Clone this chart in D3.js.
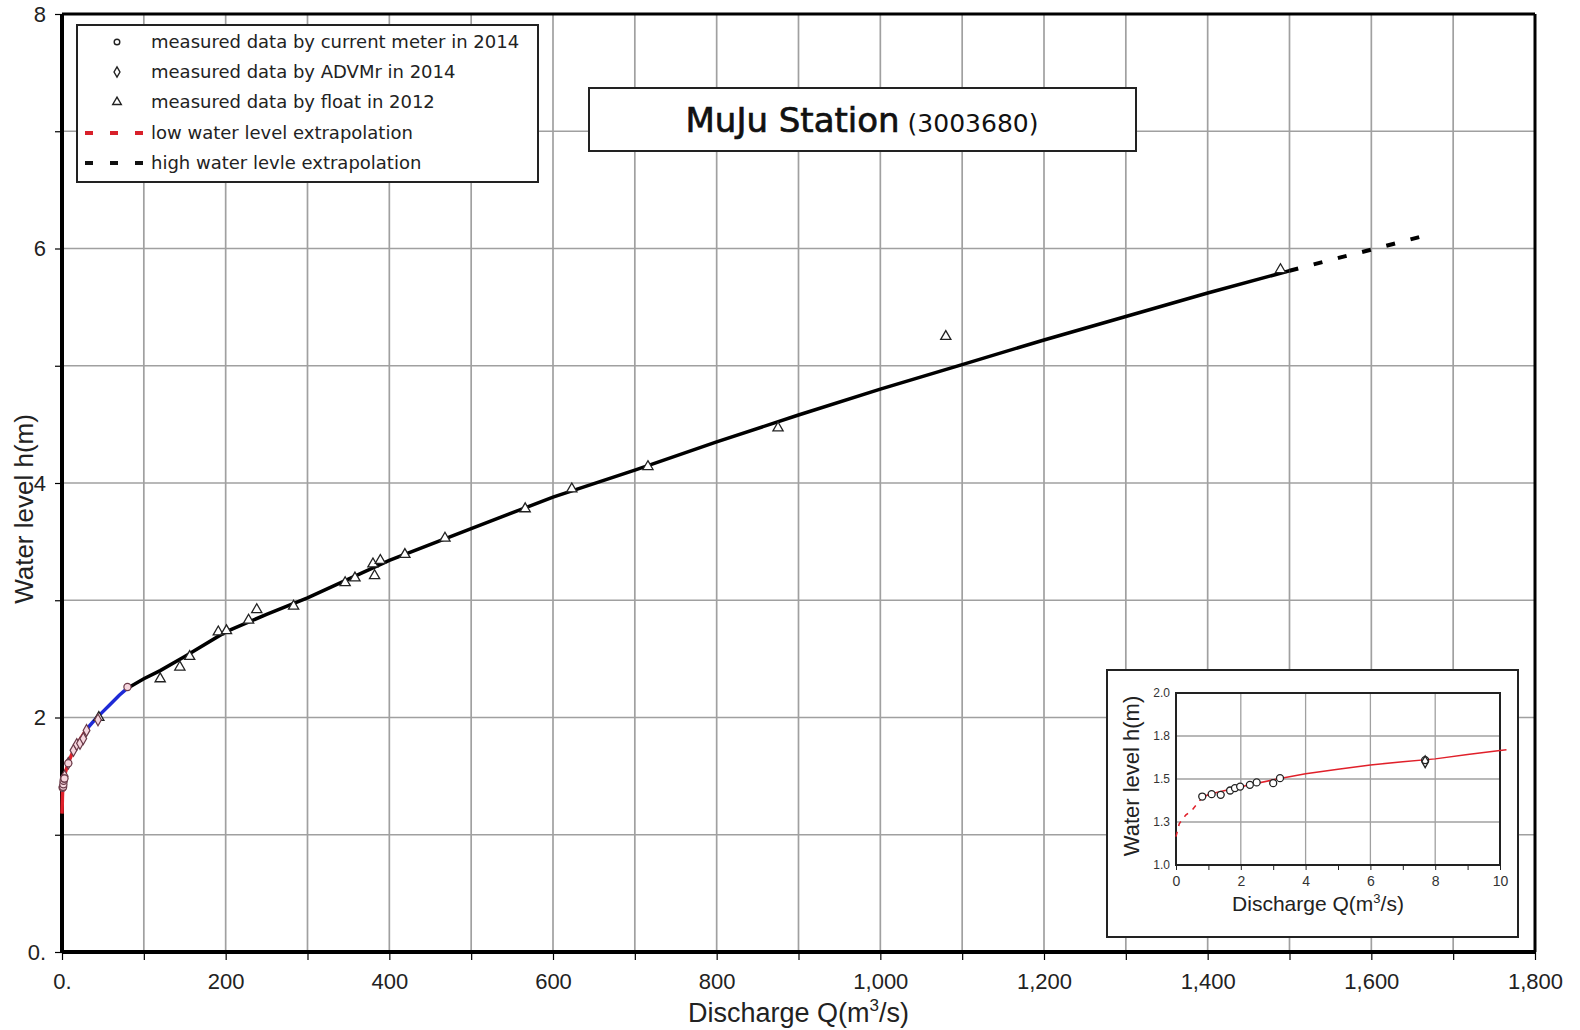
<!DOCTYPE html>
<html>
<head>
<meta charset="utf-8">
<script src="https://cdn.jsdelivr.net/npm/d3@7"></script>
<style>
  html, body { margin: 0; padding: 0; background: #fff; }
  svg { display: block; }
</style>
</head>
<body>
<svg id="chart" width="1580" height="1030"></svg>
<script>
// ---------------- DATA ----------------
const xTickValues = [0, 200, 400, 600, 800, 1000, 1200, 1400, 1600, 1800];
const xTickLabels = ["0.", "200", "400", "600", "800", "1,000", "1,200", "1,400", "1,600", "1,800"];
const yTickValues = [0, 2, 4, 6, 8];
const yTickLabels = ["0.", "2", "4", "6", "8"];

// low water level extrapolation (red)
const lowQ = [0, 0.5, 1, 2, 4, 8, 14, 20, 30];
const lowH = [1.18, 1.32, 1.42, 1.46, 1.53, 1.62, 1.72, 1.79, 1.90];
// transition segment (blue)
const midQ = [30, 40, 50, 60, 70, 80];
const midH = [1.90, 1.98, 2.05, 2.12, 2.19, 2.25];
// rating curve (black, solid)
const rateQ = [80, 100, 120, 150, 200, 250, 300, 350, 400, 500, 600, 700, 800, 900, 1000, 1100, 1200, 1300, 1400, 1500];
const rateH = [2.25, 2.33, 2.40, 2.52, 2.73, 2.88, 3.02, 3.18, 3.34, 3.61, 3.88, 4.11, 4.35, 4.58, 4.80, 5.01, 5.22, 5.42, 5.62, 5.81];
// high water level extrapolation (black dashed)
const highQ = [1500, 1560, 1600, 1660];
const highH = [5.81, 5.92, 5.99, 6.10];

// measured data by current meter in 2014
const meterQ = [0.8, 1.1, 1.4, 1.7, 2.0, 2.5, 3.0, 7.7, 80];
const meterH = [1.40, 1.41, 1.41, 1.43, 1.46, 1.48, 1.48, 1.61, 2.26];
// measured data by ADVMr in 2014
const advmQ = [1.8, 3.2, 7.7, 14, 18, 22, 26, 30, 44];
const advmH = [1.45, 1.50, 1.61, 1.72, 1.77, 1.78, 1.82, 1.89, 1.98];
// measured data by float in 2012
const floatQ = [45, 120, 144, 156, 191, 201, 228, 238, 283, 346, 358, 382, 380, 389, 419, 468, 566, 623, 716, 875, 1080, 1489];
const floatH = [2.00, 2.33, 2.43, 2.52, 2.73, 2.74, 2.83, 2.92, 2.95, 3.15, 3.19, 3.21, 3.31, 3.34, 3.39, 3.53, 3.78, 3.95, 4.14, 4.47, 5.25, 5.82];

// inset
const insetXTicks = [0, 2, 4, 6, 8, 10];
const insetYTicks = [1.0, 1.25, 1.5, 1.75, 2.0];
const insetYLabels = ["1.0", "1.3", "1.5", "1.8", "2.0"];
const insetDashQ = [0, 0.1, 0.3, 0.5, 0.8];
const insetDashH = [1.165, 1.24, 1.29, 1.32, 1.39];
const insetCurveQ = [0.8, 1, 2, 3, 4, 5, 6, 7, 8, 9, 10, 10.2];
const insetCurveH = [1.39, 1.41, 1.455, 1.495, 1.53, 1.557, 1.582, 1.60, 1.617, 1.642, 1.666, 1.67];
const insetMeterQ = [0.81, 1.10, 1.38, 1.67, 1.82, 1.98, 2.28, 2.49, 3.0, 3.21, 7.69];
const insetMeterH = [1.398, 1.412, 1.408, 1.433, 1.447, 1.456, 1.466, 1.48, 1.476, 1.505, 1.61];

const legendLabels = [
  "measured data by current meter in 2014",
  "measured data by ADVMr in 2014",
  "measured data by float in 2012",
  "low water level extrapolation",
  "high water levle extrapolation"
];

// ---------------- DRAW ----------------
const svg = d3.select("#chart");
const X0 = 62, X1 = 1535, Y0 = 952, Y1 = 14;
const x = d3.scaleLinear().domain([0, 1800]).range([X0, X1]);
const y = d3.scaleLinear().domain([0, 8]).range([Y0, Y1]);
const gridColor = "#a0a0a0";
const fontA = "'Liberation Sans', Arial, sans-serif";
const fontB = "'DejaVu Sans', Verdana, sans-serif";

// grid
const g = svg.append("g");
g.selectAll("line.vg").data(d3.range(100, 1800, 100)).join("line")
  .attr("x1", d => x(d)).attr("x2", d => x(d)).attr("y1", Y1).attr("y2", Y0)
  .attr("stroke", gridColor).attr("stroke-width", 1.7);
g.selectAll("line.hg").data(d3.range(1, 8, 1)).join("line")
  .attr("x1", X0).attr("x2", X1).attr("y1", d => y(d)).attr("y2", d => y(d))
  .attr("stroke", gridColor).attr("stroke-width", 1.7);

// axes
const xAxis = d3.axisBottom(x).tickValues(d3.range(0, 1801, 100)).tickSize(8).tickFormat("");
const xa = svg.append("g").attr("transform", `translate(0,${Y0})`).call(xAxis);
xa.select(".domain").remove();
xa.selectAll("line").attr("stroke", "#000").attr("stroke-width", 1.2);
const xl = svg.append("g").attr("transform", `translate(0,${Y0})`)
  .call(d3.axisBottom(x).tickValues(xTickValues).tickSize(0).tickPadding(21)
    .tickFormat((d, i) => xTickLabels[i]));
xl.select(".domain").remove();
xl.selectAll("text").attr("font-family", fontA).attr("font-size", 22).attr("fill", "#222");

const ya = svg.append("g").attr("transform", `translate(${X0},0)`)
  .call(d3.axisLeft(y).tickValues(d3.range(0, 9, 1)).tickSize(7).tickFormat(""));
ya.select(".domain").remove();
ya.selectAll("line").attr("stroke", "#000").attr("stroke-width", 1.2);
const yl = svg.append("g").attr("transform", `translate(${X0},0)`)
  .call(d3.axisLeft(y).tickValues(yTickValues).tickSize(0).tickPadding(16)
    .tickFormat((d, i) => yTickLabels[i]));
yl.select(".domain").remove();
yl.selectAll("text").attr("font-family", fontA).attr("font-size", 22).attr("fill", "#222");

// frame
svg.append("line").attr("x1", X0).attr("x2", X1).attr("y1", Y1).attr("y2", Y1).attr("stroke", "#000").attr("stroke-width", 3);
svg.append("line").attr("x1", X1).attr("x2", X1).attr("y1", Y1).attr("y2", Y0).attr("stroke", "#000").attr("stroke-width", 3);
svg.append("line").attr("x1", X0).attr("x2", X1).attr("y1", Y0).attr("y2", Y0).attr("stroke", "#000").attr("stroke-width", 4);
svg.append("line").attr("x1", X0).attr("x2", X0).attr("y1", Y1).attr("y2", Y0).attr("stroke", "#000").attr("stroke-width", 4);

// axis titles
const xt = svg.append("text").attr("x", (X0 + X1) / 2).attr("y", 1022).attr("text-anchor", "middle")
  .attr("font-family", fontA).attr("font-size", 27).attr("fill", "#222");
xt.append("tspan").text("Discharge Q(m");
xt.append("tspan").attr("dy", -11).attr("font-size", 17).text("3");
xt.append("tspan").attr("dy", 11).text("/s)");
svg.append("text").attr("transform", "translate(33,509) rotate(-90)").attr("text-anchor", "middle")
  .attr("font-family", fontA).attr("font-size", 26).attr("fill", "#222").text("Water level h(m)");

// curves
const line = d3.line().x(d => x(d[0])).y(d => y(d[1]));
const zip = (a, b) => a.map((v, i) => [v, b[i]]);
svg.append("path").datum(zip(lowQ, lowH)).attr("d", line).attr("fill", "none")
  .attr("stroke", "#e0202a").attr("stroke-width", 3.5);
svg.append("path").datum(zip(midQ, midH)).attr("d", line).attr("fill", "none")
  .attr("stroke", "#1e2ad6").attr("stroke-width", 3.5);
svg.append("path").datum(zip(rateQ, rateH)).attr("d", line).attr("fill", "none")
  .attr("stroke", "#000").attr("stroke-width", 3.5);
svg.append("path").datum(zip(highQ, highH)).attr("d", line).attr("fill", "none")
  .attr("stroke", "#000").attr("stroke-width", 4).attr("stroke-dasharray", "9,16");

// markers
const tri = d3.symbol().type(d3.symbolTriangle).size(45);
const dia = d3.symbol().type(d3.symbolDiamond).size(40);
svg.append("g").selectAll("path").data(zip(floatQ, floatH)).join("path")
  .attr("d", tri).attr("transform", d => `translate(${x(d[0])},${y(d[1])})`)
  .attr("fill", "#fff").attr("stroke", "#222").attr("stroke-width", 1.3);
svg.append("g").selectAll("path").data(zip(advmQ, advmH)).join("path")
  .attr("d", dia).attr("transform", d => `translate(${x(d[0])},${y(d[1])})`)
  .attr("fill", "#f6d6de").attr("stroke", "#6a3a48").attr("stroke-width", 1.2);
svg.append("g").selectAll("circle").data(zip(meterQ, meterH)).join("circle")
  .attr("cx", d => x(d[0])).attr("cy", d => y(d[1])).attr("r", 3.6)
  .attr("fill", "#f6d6de").attr("stroke", "#6a3a48").attr("stroke-width", 1.2);

// legend
const lg = svg.append("g");
lg.append("rect").attr("x", 77).attr("y", 25).attr("width", 461).attr("height", 157)
  .attr("fill", "#fff").attr("stroke", "#222").attr("stroke-width", 2);
const rowY = [42, 72, 102, 133, 163];
lg.selectAll("text").data(legendLabels).join("text")
  .attr("x", 151).attr("y", (d, i) => rowY[i] + 6)
  .attr("font-family", fontB).attr("font-size", 18).attr("fill", "#222").text(d => d);
lg.append("circle").attr("cx", 117).attr("cy", rowY[0]).attr("r", 2.8).attr("fill", "#fff").attr("stroke", "#222").attr("stroke-width", 1.4);
lg.append("path").attr("d", d3.symbol().type(d3.symbolDiamond).size(30)).attr("transform", `translate(117,${rowY[1]})`)
  .attr("fill", "#fff").attr("stroke", "#222").attr("stroke-width", 1.4);
lg.append("path").attr("d", d3.symbol().type(d3.symbolTriangle).size(32)).attr("transform", `translate(117,${rowY[2]})`)
  .attr("fill", "#fff").attr("stroke", "#222").attr("stroke-width", 1.4);
lg.append("line").attr("x1", 85).attr("x2", 143).attr("y1", rowY[3]).attr("y2", rowY[3])
  .attr("stroke", "#d8202a").attr("stroke-width", 4).attr("stroke-dasharray", "8,17");
lg.append("line").attr("x1", 85).attr("x2", 143).attr("y1", rowY[4]).attr("y2", rowY[4])
  .attr("stroke", "#111").attr("stroke-width", 4).attr("stroke-dasharray", "8,17");

// title box
svg.append("rect").attr("x", 589).attr("y", 88).attr("width", 547).attr("height", 63)
  .attr("fill", "#fff").attr("stroke", "#222").attr("stroke-width", 2);
const tt = svg.append("text").attr("x", 862).attr("y", 132).attr("text-anchor", "middle")
  .attr("font-family", fontB).attr("fill", "#111");
tt.append("tspan").attr("font-size", 34).attr("stroke", "#111").attr("stroke-width", 0.7).text("MuJu Station");
tt.append("tspan").attr("font-size", 25).text(" (3003680)");

// ---------------- INSET ----------------
const ib = svg.append("g");
ib.append("rect").attr("x", 1107).attr("y", 670).attr("width", 411).attr("height", 267)
  .attr("fill", "#fff").attr("stroke", "#222").attr("stroke-width", 2);
const ix = d3.scaleLinear().domain([0, 10]).range([1176, 1500]);
const iy = d3.scaleLinear().domain([1.0, 2.0]).range([865, 693]);
ib.selectAll("line.ivg").data([2, 4, 6, 8]).join("line")
  .attr("x1", d => ix(d)).attr("x2", d => ix(d)).attr("y1", iy(2)).attr("y2", iy(1))
  .attr("stroke", gridColor).attr("stroke-width", 1.3);
ib.selectAll("line.ihg").data([1.25, 1.5, 1.75]).join("line")
  .attr("x1", ix(0)).attr("x2", ix(10)).attr("y1", d => iy(d)).attr("y2", d => iy(d))
  .attr("stroke", gridColor).attr("stroke-width", 1.3);
ib.append("rect").attr("x", ix(0)).attr("y", iy(2)).attr("width", ix(10) - ix(0)).attr("height", iy(1) - iy(2))
  .attr("fill", "none").attr("stroke", "#222").attr("stroke-width", 2);
const ixa = ib.append("g").attr("transform", `translate(0,${iy(1)})`)
  .call(d3.axisBottom(ix).tickValues(d3.range(0, 11, 1)).tickSize(5).tickFormat(""));
ixa.select(".domain").remove();
ixa.selectAll("line").attr("stroke", "#222");
const ixl = ib.append("g").attr("transform", `translate(0,${iy(1)})`)
  .call(d3.axisBottom(ix).tickValues(insetXTicks).tickSize(0).tickPadding(11));
ixl.select(".domain").remove();
ixl.selectAll("text").attr("font-family", fontA).attr("font-size", 14).attr("fill", "#333");
const iyl = ib.append("g").attr("transform", `translate(${ix(0)},0)`)
  .call(d3.axisLeft(iy).tickValues(insetYTicks).tickSize(0).tickPadding(6)
    .tickFormat((d, i) => insetYLabels[i]));
iyl.select(".domain").remove();
iyl.selectAll("text").attr("font-family", fontA).attr("font-size", 12).attr("fill", "#333");

const ixt = ib.append("text").attr("x", 1318).attr("y", 911).attr("text-anchor", "middle")
  .attr("font-family", fontA).attr("font-size", 21).attr("fill", "#222");
ixt.append("tspan").text("Discharge Q(m");
ixt.append("tspan").attr("dy", -8).attr("font-size", 13).text("3");
ixt.append("tspan").attr("dy", 8).text("/s)");
ib.append("text").attr("transform", "translate(1139,776) rotate(-90)").attr("text-anchor", "middle")
  .attr("font-family", fontA).attr("font-size", 22).attr("fill", "#222").text("Water level h(m)");

const iline = d3.line().x(d => ix(d[0])).y(d => iy(d[1]));
ib.append("path").datum(zip(insetDashQ, insetDashH)).attr("d", iline).attr("fill", "none")
  .attr("stroke", "#e0202a").attr("stroke-width", 1.5).attr("stroke-dasharray", "5,6");
ib.append("path").datum(zip(insetCurveQ, insetCurveH)).attr("d", iline).attr("fill", "none")
  .attr("stroke", "#e0202a").attr("stroke-width", 1.5);
ib.selectAll("circle").data(zip(insetMeterQ, insetMeterH)).join("circle")
  .attr("cx", d => ix(d[0])).attr("cy", d => iy(d[1])).attr("r", 3.5)
  .attr("fill", "#fff").attr("stroke", "#222").attr("stroke-width", 1.3);
ib.append("path").attr("d", d3.symbol().type(d3.symbolDiamond).size(40))
  .attr("transform", `translate(${ix(7.69)},${iy(1.60)})`)
  .attr("fill", "none").attr("stroke", "#222").attr("stroke-width", 1.3);
</script>
</body>
</html>
